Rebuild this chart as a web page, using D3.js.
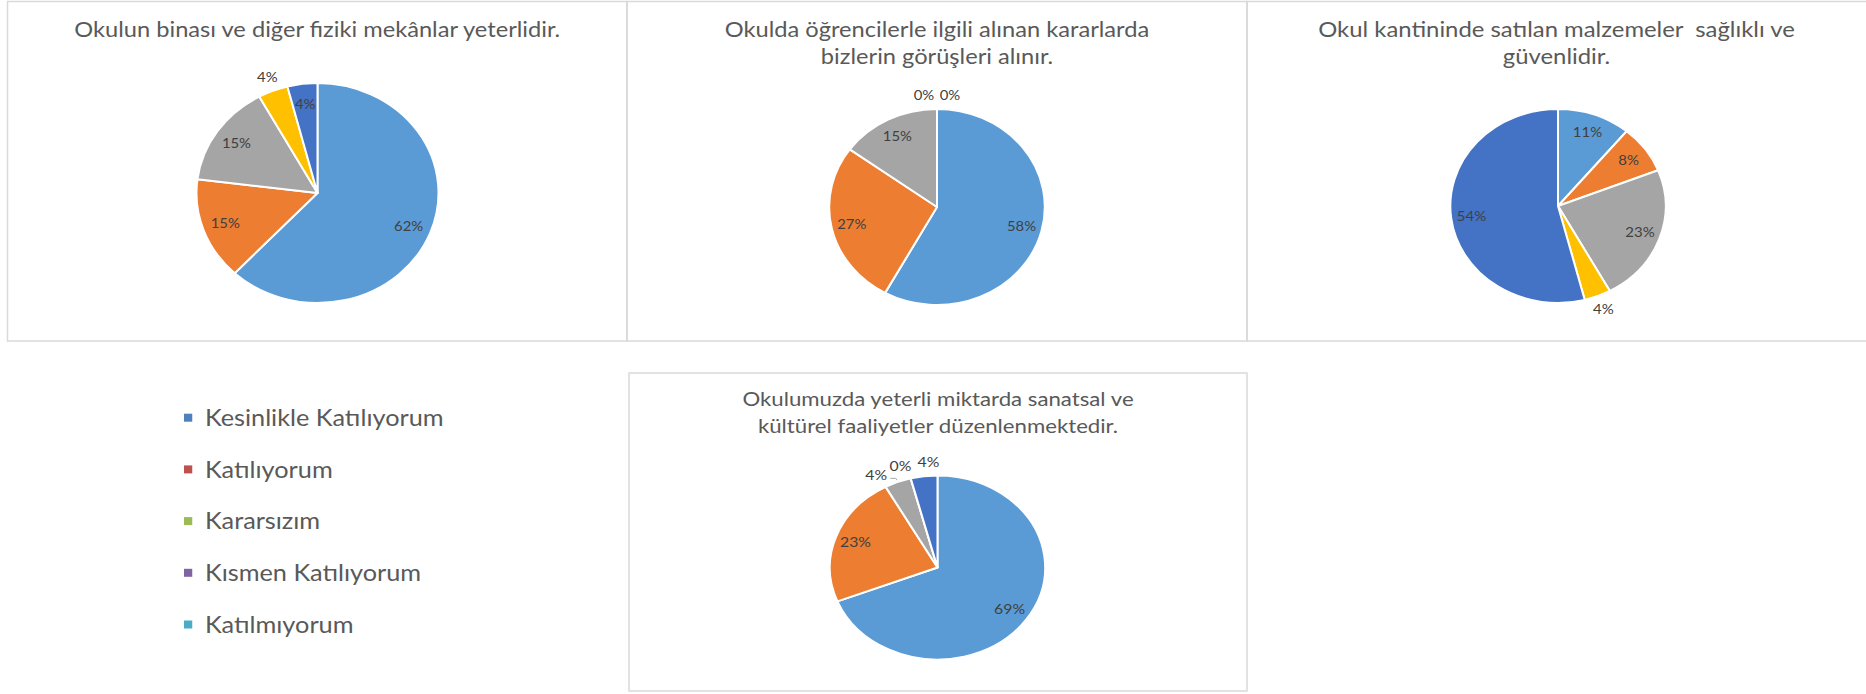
<!DOCTYPE html>
<html>
<head>
<meta charset="utf-8">
<script src="https://cdn.jsdelivr.net/npm/d3@7"></script>
<style>
  html, body { margin: 0; padding: 0; background: #fff; }
  svg { display: block; }
</style>
</head>
<body>
<script>
// answer categories (legend order) and slice order of every pie
const categories = ["Kesinlikle Katılıyorum", "Katılıyorum", "Kararsızım", "Kısmen Katılıyorum", "Katılmıyorum"];
const sliceColors = ["#5B9BD5", "#ED7D31", "#A5A5A5", "#FFC000", "#4472C4"];
const legendColors = ["#4F81BD", "#C0504D", "#9BBB59", "#8064A2", "#4BACC6"];

// percentages per question
const binaValues = [62, 15, 15, 4, 4];
const gorusValues = [58, 27, 15, 0, 0];
const kantinValues = [11, 8, 23, 4, 54];
const sanatValues = [69, 23, 4, 0, 4];

const binaTitle = ["Okulun binası ve diğer fiziki mekânlar yeterlidir."];
const gorusTitle = ["Okulda öğrencilerle ilgili alınan kararlarda", "bizlerin görüşleri alınır."];
const kantinTitle = ["Okul kantininde satılan malzemeler  sağlıklı ve", "güvenlidir."];
const sanatTitle = ["Okulumuzda yeterli miktarda sanatsal ve", "kültürel faaliyetler düzenlenmektedir."];

const width = 1866, height = 694;
const font = "Lato, 'Open Sans', sans-serif";

// layout of the four chart boxes (the source screenshot is stretched horizontally)
const panels = [
  { title: binaTitle, values: binaValues, box: [7.5, 1.5, 619.5, 339.5], cx: 317.5, cy: 193, r: 110, sx: 1.10,
    titleY: 37, titleSize: 21.5, labels: ["in", "in", "in", "out", "in"] },
  { title: gorusTitle, values: gorusValues, box: [627, 1.5, 620, 339.5], cx: 937, cy: 207, r: 98, sx: 1.10,
    titleY: 37, titleSize: 21.5, labels: ["in", "in", "in", "outL", "outR"] },
  { title: kantinTitle, values: kantinValues, box: [1247, 1.5, 625, 339.5], cx: 1558, cy: 206, r: 97, sx: 1.11,
    titleY: 37, titleSize: 21.5, labels: ["in", "in", "in", "out", "in"] },
  { title: sanatTitle, values: sanatValues, box: [629, 373, 618, 318], cx: 937.5, cy: 567.5, r: 92, sx: 1.17,
    titleY: 406, titleSize: 19, labels: ["in", "in", "out", "out", "out"], nudge: [0, 0, -8, -3, 3], leader: 2 }
];

const svg = d3.select("body").append("svg")
  .attr("width", width)
  .attr("height", height)
  .style("font-family", font);

const pie = d3.pie().sort(null).value(d => d);

panels.forEach(p => {
  const [bx, by, bw, bh] = p.box;

  // chart border
  svg.append("rect")
    .attr("x", bx).attr("y", by)
    .attr("width", bw).attr("height", bh)
    .attr("fill", "none")
    .attr("stroke", "#D9D9D9")
    .attr("stroke-width", 1.5);

  // title, centred on the visible part of the box
  const titleX = bx + Math.min(bw, width - bx) / 2;
  const titleG = svg.append("g")
    .attr("transform", `translate(${titleX},0) scale(${p.sx},1)`);
  titleG.selectAll("text")
    .data(p.title)
    .join("text")
    .attr("x", 0)
    .attr("y", (d, i) => p.titleY + i * 27.5)
    .attr("text-anchor", "middle")
    .attr("fill", "#595959")
    .style("font-size", `${p.titleSize}px`)
    .style("white-space", "pre")
    .text(d => d);

  const arcs = pie(p.values);
  const arc = d3.arc().innerRadius(0).outerRadius(p.r);

  const g = svg.append("g")
    .attr("transform", `translate(${p.cx},${p.cy}) scale(${p.sx},1)`);

  g.selectAll("path")
    .data(arcs)
    .join("path")
    .attr("d", arc)
    .attr("fill", (d, i) => sliceColors[i])
    .attr("stroke", "#fff")
    .attr("stroke-width", 2)
    .attr("stroke-linejoin", "round")
    .attr("vector-effect", "non-scaling-stroke");

  // data labels
  const labelPos = (d, i) => {
    const mode = p.labels[i];
    const nudge = p.nudge ? p.nudge[i] : 0;
    const a = (d.startAngle + d.endAngle) / 2 + nudge * Math.PI / 180;
    const dist = mode === "in" ? p.r * 0.81 : p.r + 14;
    return [dist * Math.sin(a), -dist * Math.cos(a)];
  };

  g.selectAll("text")
    .data(arcs)
    .join("text")
    .attr("x", (d, i) => labelPos(d, i)[0] + (p.labels[i] === "outL" ? -2.5 : p.labels[i] === "outR" ? 2.5 : 0))
    .attr("y", (d, i) => labelPos(d, i)[1])
    .attr("dy", "0.35em")
    .attr("text-anchor", (d, i) => p.labels[i] === "outL" ? "end" : p.labels[i] === "outR" ? "start" : "middle")
    .attr("fill", "#404040")
    .style("font-size", "13.5px")
    .text(d => `${d.data}%`);

  // small leader line for a crowded outside label
  if (p.leader !== undefined) {
    const d = arcs[p.leader];
    const [lx, ly] = labelPos(d, p.leader);
    const a = (d.startAngle + d.endAngle) / 2;
    const ex = (p.r + 2) * Math.sin(a), ey = -(p.r + 2) * Math.cos(a);
    g.append("path")
      .attr("d", `M${lx + 12},${ly + 3}H${ex - 1}L${ex},${ey}`)
      .attr("fill", "none")
      .attr("stroke", "#A6A6A6")
      .attr("stroke-width", 1)
      .attr("vector-effect", "non-scaling-stroke");
  }
});

// legend
const legend = svg.append("g")
  .attr("transform", "translate(184,0) scale(1.1,1)");

const item = legend.selectAll("g")
  .data(categories)
  .join("g")
  .attr("transform", (d, i) => `translate(0,${417.7 + i * 51.7})`);

item.append("rect")
  .attr("x", 0)
  .attr("y", -4)
  .attr("width", 7.5)
  .attr("height", 8)
  .attr("fill", (d, i) => legendColors[i]);

item.append("text")
  .attr("x", 19)
  .attr("y", 8.3)
  .attr("fill", "#595959")
  .style("font-size", "23px")
  .text(d => d);
</script>
</body>
</html>
